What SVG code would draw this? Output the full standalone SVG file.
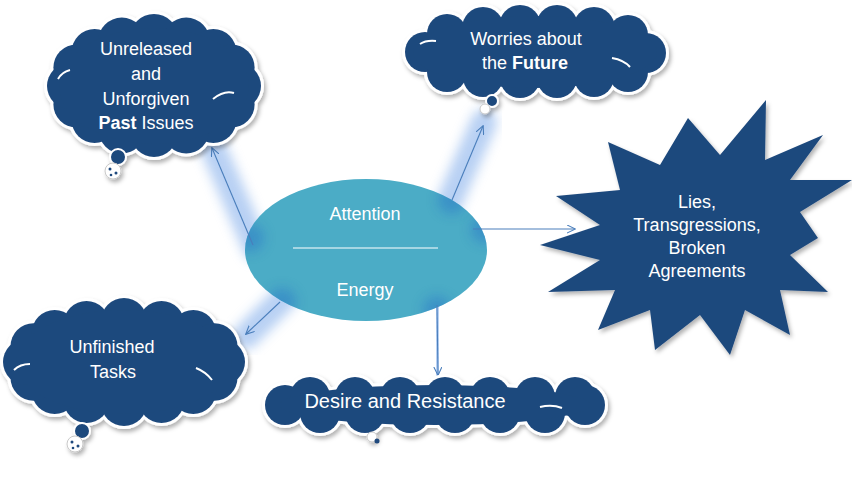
<svg xmlns="http://www.w3.org/2000/svg" xmlns:xlink="http://www.w3.org/1999/xlink" width="852" height="480" viewBox="0 0 852 480">
<style>
.t{font-family:"Liberation Sans",Arial,sans-serif;font-size:18px;fill:#fff;text-anchor:middle}
.b{font-weight:bold}
.dk{fill:#1F497D}
.ol{fill:#fff;stroke:#fff;stroke-width:6}
.arc{fill:none;stroke:#fff;stroke-width:2}
.glow{stroke:#7EAAEA;stroke-width:26;stroke-linecap:round;opacity:0.55;fill:none;filter:url(#blur)}
.spot{fill:#2F7DC8;opacity:0.55;filter:url(#blur)}
.ln{stroke:#4A7EBB;stroke-width:1.1;fill:none;marker-end:url(#ah)}
.bw{fill:#fff;stroke:#c8c8c8;stroke-width:1}
.bd{fill:#1F497D;stroke:#fff;stroke-width:2}
</style>
<defs>
<filter id="sh" x="-10%" y="-10%" width="130%" height="140%"><feDropShadow dx="2" dy="3" stdDeviation="2" flood-color="#000" flood-opacity="0.3"/></filter>
<filter id="blur" x="-50%" y="-50%" width="200%" height="200%"><feGaussianBlur stdDeviation="6"/></filter>
<clipPath id="ec"><ellipse cx="366" cy="250" rx="121" ry="71"/></clipPath>
<marker id="ah" viewBox="0 0 10 10" refX="9" refY="5" markerWidth="9" markerHeight="9" orient="auto" markerUnits="userSpaceOnUse"><path d="M0,0.5 L9.5,5 L0,9.5" fill="none" stroke="#4A7EBB" stroke-width="1.2"/></marker>
<g id="cl1"><circle cx="238" cy="86" r="23"/><circle cx="231.6" cy="104.4" r="23"/><circle cx="213.4" cy="119.9" r="23"/><circle cx="186.2" cy="130.4" r="23"/><circle cx="154" cy="134" r="23"/><circle cx="121.8" cy="130.4" r="23"/><circle cx="94.6" cy="119.9" r="23"/><circle cx="76.4" cy="104.4" r="23"/><circle cx="70" cy="86" r="23"/><circle cx="76.4" cy="67.6" r="23"/><circle cx="94.6" cy="52.1" r="23"/><circle cx="121.8" cy="41.6" r="24"/><circle cx="154" cy="38" r="24"/><circle cx="186.2" cy="41.6" r="24"/><circle cx="213.4" cy="52.1" r="23"/><circle cx="231.6" cy="67.6" r="23"/><ellipse cx="154" cy="86" rx="95" ry="58"/></g>
<g id="cl2"><circle cx="425" cy="52" r="20"/><circle cx="447" cy="34" r="20"/><circle cx="483" cy="28" r="21"/><circle cx="520" cy="26" r="21"/><circle cx="557" cy="26" r="21"/><circle cx="594" cy="28" r="21"/><circle cx="628" cy="35" r="20"/><circle cx="646" cy="53" r="20"/><circle cx="628" cy="72" r="20"/><circle cx="594" cy="77" r="20"/><circle cx="557" cy="78" r="20"/><circle cx="520" cy="78" r="20"/><circle cx="483" cy="77" r="20"/><circle cx="447" cy="72" r="20"/><ellipse cx="535" cy="52" rx="122" ry="36"/></g>
<g id="cl3"><circle cx="222" cy="362" r="23"/><circle cx="214.5" cy="377.7" r="23"/><circle cx="193.3" cy="391" r="23"/><circle cx="161.5" cy="399.9" r="23"/><circle cx="124" cy="403" r="23"/><circle cx="86.5" cy="399.9" r="23"/><circle cx="54.7" cy="391" r="23"/><circle cx="33.5" cy="377.7" r="23"/><circle cx="26" cy="362" r="23"/><circle cx="33.5" cy="346.3" r="23"/><circle cx="54.7" cy="333" r="23"/><circle cx="86.5" cy="324.1" r="23"/><circle cx="124" cy="321" r="23"/><circle cx="161.5" cy="324.1" r="23"/><circle cx="193.3" cy="333" r="23"/><circle cx="214.5" cy="346.3" r="23"/><ellipse cx="124" cy="362" rx="108" ry="52"/></g>
<g id="cl4"><circle cx="285" cy="405" r="20"/><circle cx="310" cy="397" r="20"/><circle cx="355" cy="397" r="20"/><circle cx="400" cy="397" r="20"/><circle cx="445" cy="397" r="20"/><circle cx="490" cy="397" r="20"/><circle cx="535" cy="397" r="20"/><circle cx="575" cy="397" r="20"/><circle cx="585" cy="405" r="20"/><circle cx="320" cy="413" r="20"/><circle cx="365" cy="413" r="20"/><circle cx="410" cy="413" r="20"/><circle cx="455" cy="413" r="20"/><circle cx="500" cy="413" r="20"/><circle cx="545" cy="413" r="20"/><ellipse cx="435" cy="405" rx="155" ry="20"/></g>
</defs>
<rect width="852" height="480" fill="#fff"/>

<g id="glows">
<line class="glow" x1="256" y1="248" x2="212" y2="145"/>
<line class="glow" x1="448" y1="205" x2="484" y2="122"/>
<line class="glow" x1="470" y1="229" x2="578" y2="229"/>
<line class="glow" x1="284" y1="298" x2="246" y2="336"/>
<line class="glow" x1="437" y1="295" x2="438" y2="376"/>
</g>

<g id="node-center">
<ellipse cx="366" cy="250" rx="121" ry="71" fill="#4BACC6"/>
<g clip-path="url(#ec)">
<circle class="spot" cx="250" cy="238" r="14"/>
<circle class="spot" cx="452" cy="200" r="14"/>
<circle class="spot" cx="485" cy="229" r="14"/>
<circle class="spot" cx="282" cy="302" r="14"/>
<circle class="spot" cx="437" cy="310" r="14"/>
</g>
<text class="t" x="365" y="220">Attention</text>
<line x1="293" y1="248" x2="438" y2="248" stroke="#fff" stroke-width="1.2"/>
<text class="t" x="365" y="296">Energy</text>
</g>

<g id="connectors">
<line class="ln" x1="253" y1="245" x2="212" y2="148"/>
<line class="ln" x1="452" y1="200" x2="483" y2="126"/>
<line class="ln" x1="473" y1="229" x2="575" y2="229"/>
<line class="ln" x1="280" y1="302" x2="246" y2="334"/>
<line class="ln" x1="437" y1="305" x2="438" y2="375"/>
</g>

<g id="node-past">
<g filter="url(#sh)">
<use xlink:href="#cl1" class="ol"/>
<use xlink:href="#cl1" class="dk"/>
<circle class="bd" cx="118" cy="157" r="8"/>
<circle class="bw" cx="113" cy="171" r="8"/>
</g>
<circle cx="110" cy="169" r="1.5" class="dk"/><circle cx="116" cy="173" r="1.5" class="dk"/><circle cx="111" cy="175" r="1.3" class="dk"/>
<path class="arc" d="M213,99 Q224,90 234,93"/>
<path class="arc" d="M58,79 Q62,72 70,70"/>
<text class="t" x="146" y="55">Unreleased</text>
<text class="t" x="146" y="80">and</text>
<text class="t" x="146" y="105">Unforgiven</text>
<text class="t" x="146" y="129"><tspan class="b">Past</tspan> Issues</text>
</g>

<g id="node-future">
<g filter="url(#sh)">
<use xlink:href="#cl2" class="ol"/>
<use xlink:href="#cl2" class="dk"/>
<circle class="bd" cx="492" cy="101" r="6"/>
<circle class="bw" cx="485" cy="109" r="5"/>
</g>
<path class="arc" d="M612,58 Q624,60 630,67"/>
<path class="arc" d="M420,44 Q426,40 436,41"/>
<text class="t" x="526" y="45">Worries about</text>
<text class="t" x="525" y="69">the <tspan class="b">Future</tspan></text>
</g>

<g id="node-lies">
<path filter="url(#sh)" class="dk" d="M608,142 L660,165 L688,118 L720,155 L766,100 L765,160 L823,135 L790,180 L852,180 L800,212 L818,238 L790,255 L828,292 L780,290 L790,335 L745,310 L730,355 L700,315 L655,350 L650,310 L598,330 L615,290 L548,292 L600,260 L540,245 L600,225 L556,196 L620,190 Z"/>
<text class="t" x="697" y="208">Lies,</text>
<text class="t" x="697" y="231">Transgressions,</text>
<text class="t" x="697" y="254">Broken</text>
<text class="t" x="697" y="277">Agreements</text>
</g>

<g id="node-tasks">
<g filter="url(#sh)">
<use xlink:href="#cl3" class="ol"/>
<use xlink:href="#cl3" class="dk"/>
<circle class="bd" cx="82" cy="431" r="8"/>
<circle class="bw" cx="75" cy="444" r="8"/>
</g>
<circle cx="72" cy="442" r="1.5" class="dk"/><circle cx="78" cy="446" r="1.5" class="dk"/><circle cx="73" cy="448" r="1.3" class="dk"/>
<path class="arc" d="M196,368 Q206,372 212,380"/>
<path class="arc" d="M14,370 Q20,364 30,364"/>
<text class="t" x="112" y="353">Unfinished</text>
<text class="t" x="113" y="378">Tasks</text>
</g>

<g id="node-desire">
<g filter="url(#sh)">
<use xlink:href="#cl4" class="ol"/>
<use xlink:href="#cl4" class="dk"/>
<circle class="bw" cx="372" cy="437" r="5"/>
</g>
<circle cx="377" cy="441" r="2.5" class="dk"/>
<path class="arc" d="M540,407 Q552,404 562,408"/>
<text class="t" style="font-size:20px" x="405" y="408">Desire and Resistance</text>
</g>
</svg>
